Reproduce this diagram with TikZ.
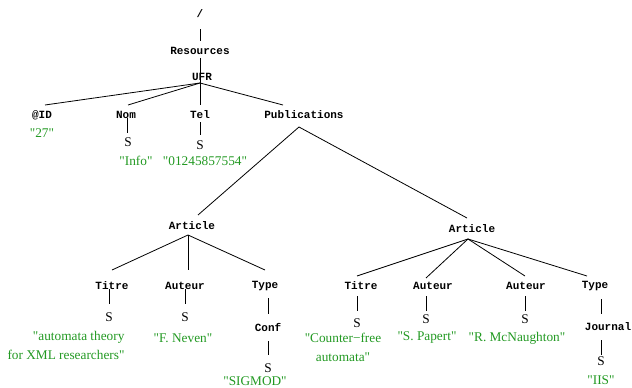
\documentclass[tikz,border=0pt]{standalone}
\usepackage{fontspec}
\setmainfont{Liberation Serif}[Ligatures=TeXOff]
\setmonofont{Liberation Mono}
\usetikzlibrary{calc}
\definecolor{valgreen}{RGB}{34,153,34}
\begin{document}
\begin{tikzpicture}[x=1pt,y=-1pt,
  lbl/.style={inner sep=0pt,font=\fontsize{11}{12}\selectfont\ttfamily\bfseries},
  sym/.style={inner sep=0pt,font=\fontsize{13.3}{15}\selectfont},
  val/.style={inner sep=0pt,text=valgreen,font=\fontsize{13.3}{19}\selectfont},
  edge/.style={draw=black,line width=0.8pt}]
\useasboundingbox (0,0) rectangle (632,388);
% top
\node[lbl] (slash) at (200,14) {/};
\node[lbl] (res) at (200,51) {Resources};
\node[lbl] (ufr) at (202,77) {UFR};
\node[lbl] (id) at (42,115) {@ID};
\node[lbl] (nom) at (126,115) {Nom};
\node[lbl] (tel) at (200,115) {Tel};
\node[lbl] (pub) at (304,115) {Publications};
\node[val] (v27) at (42,133) {"27"};
\node[sym] (snom) at (128,142) {S};
\node[val] (vinfo) at (136,161) {"Info"};
\node[sym] (stel) at (200,145) {S};
\node[val] (vtel) at (205,161) {"01245857554"};
% article 1
\node[lbl] (art1) at (192,226) {Article};
\node[lbl] (ti1) at (112,286) {Titre};
\node[lbl] (au1) at (185,286) {Auteur};
\node[lbl] (ty1) at (265,286) {Type};
\node[sym] (sti1) at (109,317) {S};
\node[sym] (sau1) at (185,317) {S};
\node[lbl] (conf) at (268,327) {Conf};
\node[sym] (sconf) at (268,368) {S};
\node[val,align=right] (vti1) at (66,345.5) {"automata theory\\for XML researchers"};
\node[val] (vau1) at (183,338) {"F. Neven"};
\node[val] (vconf) at (255,381.5) {"SIGMOD"};
% article 2
\node[lbl] (art2) at (472,229) {Article};
\node[lbl] (ti2) at (361,286) {Titre};
\node[lbl] (au2) at (433,286) {Auteur};
\node[lbl] (au3) at (526,286) {Auteur};
\node[lbl] (ty2) at (595,286) {Type};
\node[sym] (sti2) at (357,323) {S};
\node[sym] (sau2) at (426,319) {S};
\node[sym] (sau3) at (525,319) {S};
\node[lbl] (jour) at (608,327) {Journal};
\node[sym] (sjour) at (601,361) {S};
\node[val,align=center] (vti2) at (343,347.5) {"Counter−free\\automata"};
\node[val] (vau2) at (427,338) {"S. Papert"};
\node[val] (vau3) at (517,338) {"R. McNaughton"};
\node[val] (vjour) at (601,380) {"IIS"};
% connectors
\draw[edge] ($(slash)+(0,15)$) -- ($(res)+(0,-10)$);
\draw[edge] ($(res)+(0,7)$) -- ($(ufr)+(-2,6)$);
\draw[edge] ($(ufr)+(-2,6)$) -- ($(id)+(3,-10)$);
\draw[edge] ($(ufr)+(-2,6)$) -- ($(nom)+(2,-10)$);
\draw[edge] ($(ufr)+(-2,6)$) -- ($(tel)+(0,-10)$);
\draw[edge] ($(ufr)+(-2,6)$) -- ($(pub)+(-21,-10)$);
\draw[edge] ($(nom)+(1,3)$) -- ($(snom)+(-1,-9)$);
\draw[edge] ($(tel)+(0,7)$) -- ($(stel)+(0,-10)$);
\draw[edge] ($(pub)+(-5,12)$) -- ($(art1)+(6,-11)$);
\draw[edge] ($(pub)+(-5,12)$) -- ($(art2)+(-5,-11)$);
\draw[edge] ($(art1)+(-4,9)$) -- ($(ti1)+(0,-16)$);
\draw[edge] ($(art1)+(-4,9)$) -- ($(au1)+(3,-16)$);
\draw[edge] ($(art1)+(-4,9)$) -- ($(ty1)+(0,-16)$);
\draw[edge] ($(ti1)+(-3,3)$) -- ($(sti1)+(0,-13)$);
\draw[edge] ($(au1)+(0,3)$) -- ($(sau1)+(0,-13)$);
\draw[edge] ($(ty1)+(3,12)$) -- ($(conf)+(0,-13)$);
\draw[edge] ($(conf)+(0,14)$) -- ($(sconf)+(0,-13)$);
\draw[edge] ($(art2)+(-4,10)$) -- ($(ti2)+(-4,-10)$);
\draw[edge] ($(art2)+(-4,10)$) -- ($(au2)+(-7,-8)$);
\draw[edge] ($(art2)+(-4,10)$) -- ($(au3)+(-1,-10)$);
\draw[edge] ($(art2)+(-4,10)$) -- ($(ty2)+(-8,-10)$);
\draw[edge] ($(ti2)+(-4,10)$) -- ($(sti2)+(0,-12)$);
\draw[edge] ($(au2)+(-7,10)$) -- ($(sau2)+(0,-8)$);
\draw[edge] ($(au3)+(-1,10)$) -- ($(sau3)+(0,-8)$);
\draw[edge] ($(ty2)+(6,13)$) -- ($(jour)+(-7,-13)$);
\draw[edge] ($(jour)+(-7,13)$) -- ($(sjour)+(0,-6)$);
\end{tikzpicture}
\end{document}
